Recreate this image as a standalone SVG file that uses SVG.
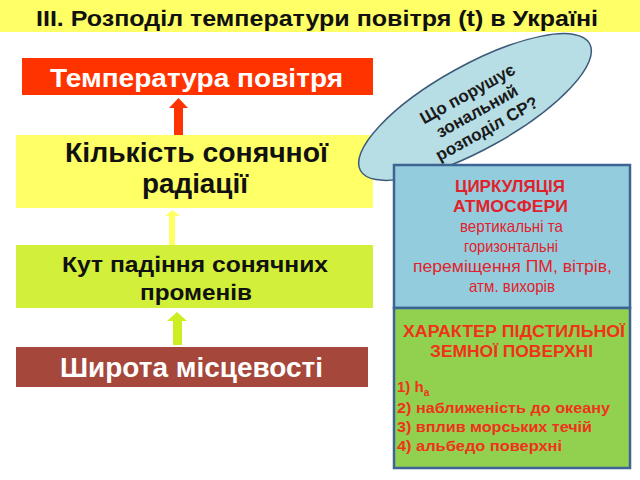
<svg xmlns="http://www.w3.org/2000/svg" width="640" height="480" viewBox="0 0 640 480">
<defs>
<style>
.t{font-family:"Liberation Sans",Arial,sans-serif;text-anchor:middle}
.l{font-family:"Liberation Sans",Arial,sans-serif;font-weight:bold;fill:#f0321a;font-size:15px}
.b{font-weight:bold}
.w{fill:#ffffff}
.k{fill:#111111}
.r{fill:#e0222c}
.o{fill:#f0321a}
.box{stroke:#3d6593;stroke-width:2.5}
</style>
</defs>
<rect x="0" y="0" width="640" height="480" fill="#ffffff"/>
<g id="title">
<rect x="0" y="0" width="640" height="32" fill="#ffff66"/>
<text class="t b k" x="317" y="26" font-size="22" textLength="562" lengthAdjust="spacingAndGlyphs">III. Розподіл температури повітря (t) в Україні</text>
</g>
<g id="connectors">
<polygon points="174,135 174,108 169,108 178.5,98 188,108 183,108 183,135" fill="#ff3300"/>
<polygon points="169,245 169,216 165,216 172.5,210 180,216 175,216 175,245" fill="#ffff66"/>
<polygon points="173,345 173,321 167,321 177,312 187,321 182,321 182,345" fill="#ccee22"/>
</g>
<g id="node-temp">
<rect x="22" y="58" width="351" height="37" fill="#ff3300"/>
<text class="t b w" x="196.5" y="87" font-size="26" textLength="293" lengthAdjust="spacingAndGlyphs">Температура повітря</text>
</g>
<g id="node-radiation">
<rect x="16" y="135" width="357" height="73" fill="#ffff66"/>
<text class="t b k" x="196.5" y="162" font-size="27" textLength="263" lengthAdjust="spacingAndGlyphs">Кількість сонячної</text>
<text class="t b k" x="195" y="193" font-size="27" textLength="106" lengthAdjust="spacingAndGlyphs">радіації</text>
</g>
<g id="node-angle">
<rect x="16" y="245" width="357" height="63" fill="#d2f03a"/>
<text class="t b k" x="195" y="272" font-size="22" textLength="266" lengthAdjust="spacingAndGlyphs">Кут падіння сонячних</text>
<text class="t b k" x="196" y="300" font-size="22" textLength="112" lengthAdjust="spacingAndGlyphs">променів</text>
</g>
<g id="node-latitude">
<rect x="16" y="347" width="352" height="40" fill="#a5473a"/>
<text class="t b w" x="191.5" y="377" font-size="27" textLength="263" lengthAdjust="spacingAndGlyphs">Широта місцевості</text>
</g>
<g id="node-question">
<ellipse cx="475" cy="107" rx="131" ry="42" transform="rotate(-29 475 107)" fill="#b7dde5" stroke="#3d5a7a" stroke-width="1.5"/>
<g transform="translate(477 111) rotate(-29)">
<text class="t b" x="0" y="-14" font-size="17" fill="#1a1a1a">Що порушує</text>
<text class="t b" x="0" y="6" font-size="17" fill="#1a1a1a">зональний</text>
<text class="t b" x="0" y="26" font-size="17" fill="#1a1a1a">розподіл СР?</text>
</g>
</g>
<g id="node-circulation">
<rect x="394" y="165" width="236" height="143" fill="#93cddd" class="box"/>
<text class="t b r" x="510" y="192" font-size="17" textLength="110" lengthAdjust="spacingAndGlyphs">ЦИРКУЛЯЦІЯ</text>
<text class="t b r" x="510.5" y="212" font-size="17" textLength="115" lengthAdjust="spacingAndGlyphs">АТМОСФЕРИ</text>
<text class="t r" x="511.5" y="232" font-size="16.5" textLength="103" lengthAdjust="spacingAndGlyphs">вертикальні та</text>
<text class="t r" x="511" y="252" font-size="16.5" textLength="94" lengthAdjust="spacingAndGlyphs">горизонтальні</text>
<text class="t r" x="512.5" y="272" font-size="16.5" textLength="199" lengthAdjust="spacingAndGlyphs">переміщення ПМ, вітрів,</text>
<text class="t r" x="512" y="292" font-size="16.5" textLength="86" lengthAdjust="spacingAndGlyphs">атм. вихорів</text>
</g>
<g id="node-surface">
<rect x="394" y="308" width="236" height="160" fill="#92d050" class="box"/>
<text class="t o" x="514" y="337" font-size="16" font-weight="600" textLength="222" lengthAdjust="spacingAndGlyphs">ХАРАКТЕР ПІДСТИЛЬНОЇ</text>
<text class="t o" x="511.5" y="357" font-size="16" font-weight="600" textLength="163" lengthAdjust="spacingAndGlyphs">ЗЕМНОЇ ПОВЕРХНІ</text>
<text class="l" x="397" y="392">1) h<tspan dy="4" font-size="10">a</tspan></text>
<text class="l" x="397" y="413" textLength="213" lengthAdjust="spacingAndGlyphs">2) наближеність до океану</text>
<text class="l" x="397" y="432" textLength="195" lengthAdjust="spacingAndGlyphs">3) вплив морських течій</text>
<text class="l" x="397" y="451" textLength="165" lengthAdjust="spacingAndGlyphs">4) альбедо поверхні</text>
</g>
</svg>
